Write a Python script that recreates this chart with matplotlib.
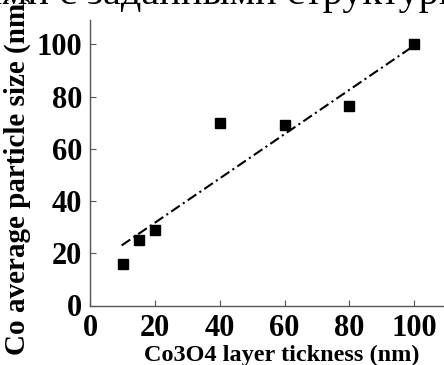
import matplotlib
matplotlib.use("Agg")
import matplotlib.pyplot as plt

# Data
layer_thickness = [10, 15, 20, 40, 60, 80, 100]        # Co3O4 layer thickness (nm)
particle_size = [15.7, 24.9, 29.0, 70.0, 69.2, 76.5, 100.2]  # Co average particle size (nm)

# Linear trend line end points
fit_x = [9.7, 98.6]
fit_y = [23.0, 98.3]

x_ticks = [0, 20, 40, 60, 80, 100]
y_ticks = [0, 20, 40, 60, 80, 100]

plt.rcParams['font.family'] = ['Liberation Serif', 'DejaVu Serif']

fig = plt.figure(figsize=(4.44, 3.65), dpi=100)
ax = fig.add_axes([90.25 / 444, 1 - 305.5 / 365, 353 / 444, 285.5 / 365])

# Cut-off line of the surrounding document text
fig.text(0.5, 1 - 4 / 365, "ами с заданными структурн", ha='center',
         va='baseline', fontsize=29, color='black')

ax.plot(fit_x, fit_y, color='black', lw=1.5, dashes=(5, 1.8, 1, 1.8))
ax.plot(layer_thickness, particle_size, 's', color='black', markersize=7.2,
        markeredgecolor='black')

ax.set_xlim(0, 109)
ax.set_ylim(0, 109.3)
ax.set_xticks(x_ticks)
ax.set_yticks(y_ticks)
ax.tick_params(direction='in', length=4, width=0.8, color='#555555',
               labelsize=22, pad=6)
for lab in ax.get_xticklabels() + ax.get_yticklabels():
    lab.set_fontweight('bold')

for side in ['top', 'right']:
    ax.spines[side].set_visible(False)
for side in ['left', 'bottom']:
    ax.spines[side].set_color('#555555')
    ax.spines[side].set_linewidth(1.0)

ax.set_xlabel("Co3O4 layer tickness (nm)", fontsize=17.5, fontweight='bold')
ax.set_ylabel("Co average particle size (nm)", fontsize=21, fontweight='bold')
ax.xaxis.set_label_coords(0.543, -0.137)
ax.yaxis.set_label_coords(-0.168, 0.46)

fig.savefig("out.png", dpi=100)
